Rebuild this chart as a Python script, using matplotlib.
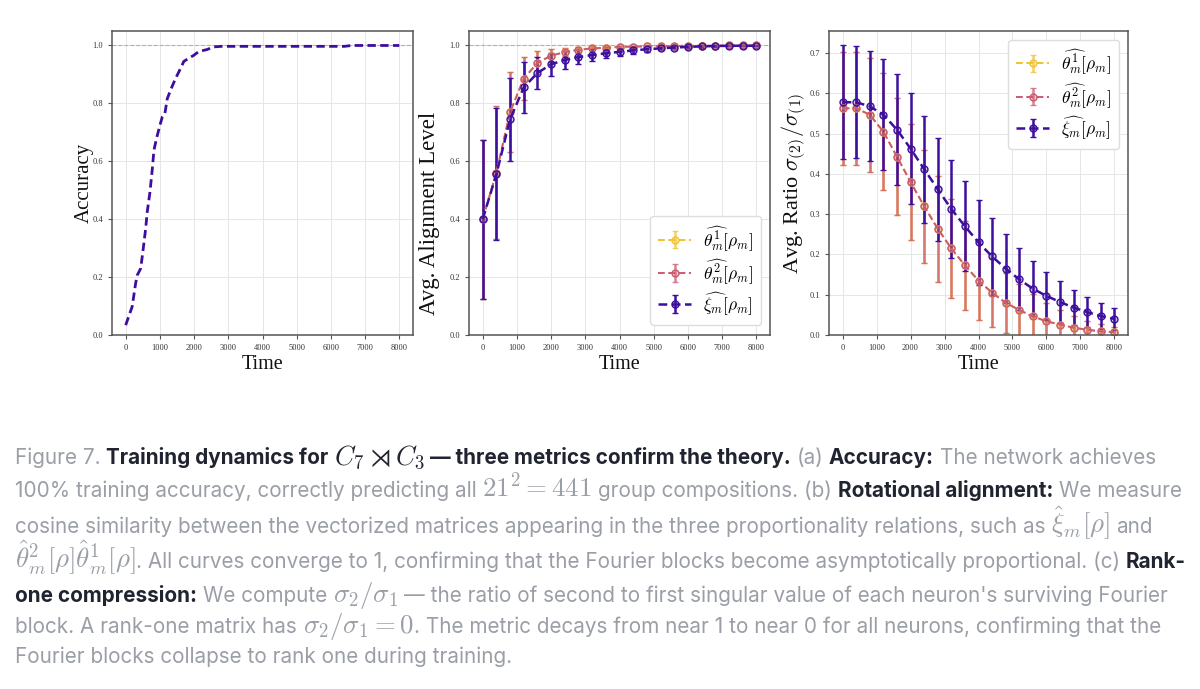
import matplotlib
matplotlib.use("Agg")
import matplotlib.pyplot as plt
import numpy as np

# ---------------- data ----------------
acc_t = [0, 190, 290, 340, 440, 515, 585, 630, 710, 780, 825, 900, 1000, 1070, 1145,
         1215, 1330, 1455, 1600, 1700, 1845, 1990, 2135, 2380, 2570, 2800, 3500, 4500,
         5500, 6400, 6600, 7500, 8000]
acc_v = [0.034, 0.098, 0.178, 0.207, 0.23, 0.30, 0.368, 0.425, 0.494, 0.575, 0.638,
         0.678, 0.724, 0.753, 0.764, 0.816, 0.851, 0.885, 0.92, 0.945, 0.956, 0.966,
         0.979, 0.986, 0.995, 0.997, 0.997, 0.997, 0.997, 0.997, 1.0, 1.0, 1.0]

steps = [0, 400, 800, 1200, 1600, 2000, 2400, 2800, 3200, 3600, 4000, 4400, 4800,
         5200, 5600, 6000, 6400, 6800, 7200, 7600, 8000]

# alignment (b)
th1_align = [0.40, 0.56, 0.77, 0.885, 0.94, 0.965, 0.977, 0.985, 0.99, 0.992, 0.995,
             0.996, 0.997, 0.998, 0.998, 0.999, 0.999, 0.999, 1.0, 1.0, 1.0]
th1_align_err = [0.275, 0.23, 0.137, 0.075, 0.04, 0.022, 0.014, 0.01, 0.007, 0.005,
                 0.004, 0.003, 0.002, 0.002, 0.001, 0.001, 0.001, 0.001, 0.0005, 0.0005, 0.0005]
th2_align = [0.40, 0.56, 0.77, 0.885, 0.94, 0.965, 0.977, 0.985, 0.99, 0.992, 0.995,
             0.996, 0.997, 0.998, 0.998, 0.999, 0.999, 0.999, 1.0, 1.0, 1.0]
th2_align_err = [0.275, 0.23, 0.137, 0.075, 0.04, 0.022, 0.014, 0.01, 0.007, 0.005,
                 0.004, 0.003, 0.002, 0.002, 0.001, 0.001, 0.001, 0.001, 0.0005, 0.0005, 0.0005]
xi_align = [0.40, 0.555, 0.745, 0.855, 0.905, 0.935, 0.95, 0.96, 0.967, 0.973, 0.978,
            0.983, 0.987, 0.99, 0.993, 0.995, 0.997, 0.998, 0.999, 0.999, 0.999]
xi_align_err = [0.275, 0.228, 0.143, 0.088, 0.055, 0.04, 0.03, 0.025, 0.02, 0.016, 0.013,
                0.011, 0.009, 0.007, 0.006, 0.005, 0.004, 0.003, 0.002, 0.002, 0.001]

# singular value ratio (c)
th1_ratio = [0.563, 0.563, 0.547, 0.505, 0.443, 0.38, 0.32, 0.264, 0.215, 0.173, 0.135,
             0.105, 0.08, 0.062, 0.046, 0.034, 0.026, 0.018, 0.013, 0.009, 0.007]
th1_ratio_err = [0.14, 0.14, 0.142, 0.145, 0.145, 0.143, 0.14, 0.132, 0.123, 0.111, 0.098,
                 0.085, 0.075, 0.065, 0.055, 0.045, 0.037, 0.03, 0.023, 0.018, 0.014]
th2_ratio = [0.563, 0.563, 0.547, 0.505, 0.443, 0.38, 0.32, 0.264, 0.215, 0.173, 0.135,
             0.105, 0.08, 0.062, 0.046, 0.034, 0.026, 0.018, 0.013, 0.009, 0.007]
th2_ratio_err = [0.14, 0.14, 0.142, 0.145, 0.145, 0.143, 0.14, 0.132, 0.123, 0.111, 0.098,
                 0.085, 0.075, 0.065, 0.055, 0.045, 0.037, 0.03, 0.023, 0.018, 0.014]
xi_ratio = [0.578, 0.578, 0.568, 0.547, 0.51, 0.463, 0.412, 0.362, 0.313, 0.27, 0.23,
            0.195, 0.165, 0.138, 0.115, 0.097, 0.082, 0.068, 0.057, 0.047, 0.04]
xi_ratio_err = [0.142, 0.139, 0.137, 0.138, 0.138, 0.137, 0.133, 0.128, 0.122, 0.112, 0.105,
                0.095, 0.085, 0.077, 0.068, 0.06, 0.051, 0.044, 0.038, 0.033, 0.027]

labels = [r'$\widehat{\theta^1_m}[\rho_m]$', r'$\widehat{\theta^2_m}[\rho_m]$',
          r'$\widehat{\xi_m}[\rho_m]$']
xticks = [0, 1000, 2000, 3000, 4000, 5000, 6000, 7000, 8000]

# ---------------- style ----------------
plt.rcParams['mathtext.fontset'] = 'cm'
SERIF = 'Liberation Serif'
C_Y = '#f1c232'
C_P = '#cc5a71'
C_V = '#3c0f9f'
C_ACC = '#3d0da0'

W, H = 1200, 689
fig = plt.figure(figsize=(W / 100, H / 100), dpi=100)


def axrect(l, t, r, b):
    return [l / W, 1 - b / H, (r - l) / W, (b - t) / H]


ax1 = fig.add_axes(axrect(112, 31, 413, 335))
ax2 = fig.add_axes(axrect(469, 31, 770, 335))
ax3 = fig.add_axes(axrect(829, 31, 1128, 335))


def style(ax, ylabel, yticks, ylsize, lpad):
    ax.set_xlim(-400, 8400)
    ax.set_xticks(xticks)
    ax.set_yticks(yticks)
    ax.set_yticklabels([f'{v:.1f}' for v in yticks])
    ax.grid(True, color='#e6e6e6', linewidth=0.7)
    ax.set_axisbelow(True)
    for s in ax.spines.values():
        s.set_color('#555555')
        s.set_linewidth(1.1)
    ax.tick_params(labelsize=6, length=3, width=0.8, color='#555555', labelcolor='#333333')
    for lab in ax.get_xticklabels() + ax.get_yticklabels():
        lab.set_family(SERIF)
    ax.set_xlabel('Time', family=SERIF, fontsize=14.5, color='#111111', labelpad=2)
    ax.set_ylabel(ylabel, family=SERIF, fontsize=ylsize, color='#111111', labelpad=lpad)


# (a) accuracy
ax1.axhline(1.0, color='#b0b0b0', linestyle='--', linewidth=0.8)
ax1.plot(acc_t, acc_v, linestyle=(0, (3, 1.6)), color=C_ACC, linewidth=2.0)
ax1.set_ylim(0, 1.05)
style(ax1, 'Accuracy', [0.0, 0.2, 0.4, 0.6, 0.8, 1.0], 15, -1)


def eb(ax, y, e, c, lab, ealpha, lw):
    cont = ax.errorbar(steps, y, yerr=e, color=c, linestyle=(0, (3.5, 1.8)), linewidth=lw,
                       marker='o', markersize=5, markerfacecolor=c + '44', markeredgecolor=c,
                       markeredgewidth=1.0, ecolor=c, elinewidth=1.8, capsize=2.5,
                       capthick=1.2, label=lab)
    for art in cont[2]:
        art.set_alpha(ealpha)
    for art in cont[1]:
        art.set_alpha(ealpha)
    return cont


LEG = dict(fontsize=12.5, labelspacing=0.25, handlelength=1.9, handletextpad=0.7,
           borderpad=0.45, framealpha=1, edgecolor='#dddddd', fancybox=True)

# (b) alignment
ax2.axhline(1.0, color='#b0b0b0', linestyle='--', linewidth=0.8)
eb(ax2, th1_align, th1_align_err, C_Y, labels[0], 0.75, 1.4)
eb(ax2, th2_align, th2_align_err, C_P, labels[1], 0.75, 1.4)
eb(ax2, xi_align, xi_align_err, C_V, labels[2], 1.0, 1.8)
ax2.set_ylim(0, 1.05)
style(ax2, 'Avg. Alignment Level', [0.0, 0.2, 0.4, 0.6, 0.8, 1.0], 16.5, -1)
ax2.yaxis.set_label_coords(-0.095, 0.40)
ax2.legend(loc='lower right', bbox_to_anchor=(1.0, 0.005), **LEG)

# (c) ratio
eb(ax3, th1_ratio, th1_ratio_err, C_Y, labels[0], 0.75, 1.4)
eb(ax3, th2_ratio, th2_ratio_err, C_P, labels[1], 0.75, 1.4)
eb(ax3, xi_ratio, xi_ratio_err, C_V, labels[2], 1.0, 1.8)
ax3.set_ylim(0, 0.755)
style(ax3, r'Avg. Ratio $\sigma_{(2)}/\sigma_{(1)}$', [0.0, 0.1, 0.2, 0.3, 0.4, 0.5, 0.6, 0.7], 16, 1)
ax3.legend(loc='upper right', bbox_to_anchor=(1.0, 1.0), **LEG)

# ---------------- caption ----------------
GRAY = '#9a9ea6'
DARK = '#1f2430'
FS = 14.9
MFS = FS * 1.3
FONT = 'Inter'
renderer = fig.canvas.get_renderer()


def measure(s, bold):
    t = fig.text(0, 0, s, fontsize=FS, family=FONT, weight='bold' if bold else 'normal')
    w = t.get_window_extent(renderer).width
    t.remove()
    return w


SP = {False: measure('x x', False) - measure('xx', False),
      True: measure('x x', True) - measure('xx', True)}


def line(y_base, segs):
    x = 15.0
    for s, kind in segs:
        bold = kind.startswith('b')
        math = kind.endswith('m')
        lead = len(s) - len(s.lstrip(' '))
        trail = len(s) - len(s.rstrip(' '))
        x += lead * SP[bold]
        core = s.strip(' ')
        t = fig.text(x / W, 1 - y_base / H, core, fontsize=MFS if math else FS, family=FONT,
                     weight='bold' if bold else 'normal', color=DARK if bold else GRAY,
                     va='baseline', ha='left')
        x += t.get_window_extent(renderer).width
        x += trail * SP[bold]


line(464, [('Figure 7. ', 'g'), ('Training dynamics for ', 'b'), (r'$C_7 \rtimes C_3$', 'bm'),
           (' — three metrics confirm the theory.', 'b'),
           (' (a) ', 'g'), ('Accuracy:', 'b'), (' The network achieves', 'g')])
line(497, [('100% training accuracy, correctly predicting all ', 'g'), (r'$21^2 = 441$', 'gm'),
           (' group compositions. (b) ', 'g'),
           ('Rotational alignment:', 'b'), (' We measure', 'g')])
line(533, [('cosine similarity between the vectorized matrices appearing in the three proportionality relations, such as ', 'g'),
           (r'$\hat{\xi}_m[\rho]$', 'gm'), (' and', 'g')])
line(568, [(r'$\hat{\theta}^2_m[\rho]\hat{\theta}^1_m[\rho]$', 'gm'),
           ('. All curves converge to 1, confirming that the Fourier blocks become asymptotically proportional. (c) ', 'g'),
           ('Rank-', 'b')])
line(602, [('one compression:', 'b'), (' We compute ', 'g'), (r'$\sigma_2/\sigma_1$', 'gm'),
           (" — the ratio of second to first singular value of each neuron's surviving Fourier", 'g')])
line(633, [('block. A rank-one matrix has ', 'g'), (r'$\sigma_2/\sigma_1 = 0$', 'gm'),
           ('. The metric decays from near 1 to near 0 for all neurons, confirming that the', 'g')])
line(663, [('Fourier blocks collapse to rank one during training.', 'g')])

fig.savefig('out.png', dpi=100, facecolor='white')
